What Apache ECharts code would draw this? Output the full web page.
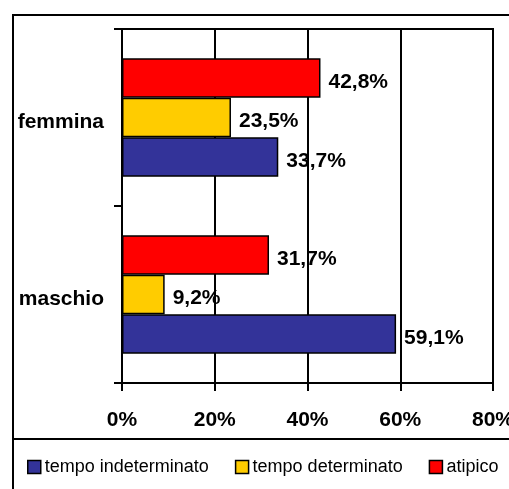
<!DOCTYPE html>
<html>
<head>
<meta charset="utf-8">
<script src="https://cdn.jsdelivr.net/npm/echarts@6/dist/echarts.min.js"></script>
<style>
  html, body { margin: 0; padding: 0; background: #fff; }
  #chart { width: 509px; height: 489px; }
</style>
</head>
<body>
<div id="chart"></div>
<script>
const categories = ['maschio', 'femmina'];
const seriesNames = ['tempo indeterminato', 'tempo determinato', 'atipico'];
const indeterminato = [59.1, 33.7];
const determinato = [9.2, 23.5];
const atipico = [31.7, 42.8];
const seriesColors = ['#333399', '#FFCC00', '#FF0000'];
const axisMin = 0, axisMax = 80, axisStep = 20;

const FONT = '"Liberation Sans", Arial, sans-serif';
const fmt = v => v.toFixed(1).replace('.', ',') + '%';

const chart = echarts.init(document.getElementById('chart'), null, { renderer: 'canvas' });

const values = [indeterminato, determinato, atipico];
// ECharts places the first series at the top of each horizontal group,
// so add them in reverse to keep "tempo indeterminato" at the bottom.
const series = seriesNames.map((name, i) => ({
  name: name,
  type: 'bar',
  data: values[i],
  barGap: '0%',
  barCategoryGap: '33%',
  itemStyle: { color: seriesColors[i], borderColor: '#000', borderWidth: 1.5 },
  label: {
    show: true, position: 'right', distance: 8, offset: [0, 4],
    formatter: p => fmt(p.value),
    color: '#000', fontWeight: 'bold', fontSize: 21, fontFamily: FONT
  },
  emphasis: { disabled: true },
  silent: true
})).reverse();

chart.setOption({
  animation: false,
  backgroundColor: '#fff',
  grid: {
    left: 122, right: 16, top: 29, bottom: 106,
    containLabel: false, outerBoundsMode: 'none',
    show: true, borderColor: '#000', borderWidth: 2, backgroundColor: 'transparent'
  },
  xAxis: {
    type: 'value', min: axisMin, max: axisMax, interval: axisStep,
    axisLine: { show: true, lineStyle: { color: '#000', width: 2 } },
    axisTick: { show: true, length: 8, lineStyle: { color: '#000', width: 2 } },
    splitLine: { show: true, lineStyle: { color: '#000', width: 2 } },
    axisLabel: {
      formatter: v => v + '%', margin: 27, hideOverlap: false,
      color: '#000', fontWeight: 'bold', fontSize: 21, fontFamily: FONT
    }
  },
  yAxis: {
    type: 'category', data: categories,
    axisLine: { show: true, lineStyle: { color: '#000', width: 2 } },
    axisTick: { show: true, length: 8, lineStyle: { color: '#000', width: 2 } },
    splitLine: { show: false },
    axisLabel: {
      margin: 18,
      formatter: v => '{c|' + v + '}',
      rich: {
        c: { padding: [9, 0, 0, 0], color: '#000', fontWeight: 'bold', fontSize: 21, fontFamily: FONT }
      },
      color: '#000', fontWeight: 'bold', fontSize: 21, fontFamily: FONT
    }
  },
  legend: {
    data: seriesNames,
    left: 27, top: 458, width: 600, padding: 0,
    itemWidth: 13, itemHeight: 13, itemGap: 26,
    icon: 'rect',
    itemStyle: { borderColor: '#000', borderWidth: 1.5 },
    textStyle: { color: '#000', fontSize: 18, fontFamily: FONT, padding: [0, 0, 0, -1] },
    selectedMode: false
  },
  graphic: [
    { type: 'rect', shape: { x: 13, y: 15, width: 600, height: 600 },
      style: { fill: 'none', stroke: '#000', lineWidth: 2 }, silent: true, z: 100 },
    { type: 'line', shape: { x1: 13, y1: 439, x2: 600, y2: 439 },
      style: { stroke: '#000', lineWidth: 2 }, silent: true, z: 100 }
  ],
  series: series
});
</script>
</body>
</html>
